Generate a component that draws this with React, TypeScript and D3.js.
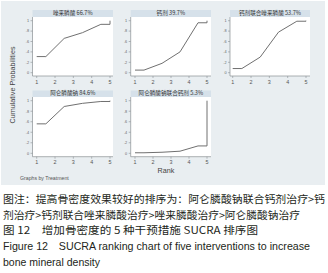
import React from "react";
import * as d3 from "d3";

// Data
const treatments = ["唑来膦酸", "钙剂", "钙剂联合唑来膦酸", "阿仑膦酸钠", "阿仑膦酸钠联合钙剂"];
const sucraLabels = ["66.7%", "39.7%", "53.7%", "84.6%", "5.3%"];
// cumulative probabilities at ranks 1..5
const cumZol = [0.31, 0.66, 0.77, 0.93, 1.0];
const cumCa = [0.05, 0.18, 0.4, 0.96, 1.0];
const cumCaZol = [0.08, 0.3, 0.78, 0.99, 1.0];
const cumAle = [0.56, 0.89, 0.95, 0.985, 1.0];
const cumAleCa = [0.01, 0.02, 0.04, 0.14, 1.0];
const seriesList = [cumZol, cumCa, cumCaZol, cumAle, cumAleCa];
const rankTicks = [1, 2, 3, 4, 5];
const probTicks = [0, 0.2, 0.4, 0.6, 0.8, 1];
const probTickLabels = ["0", ".2", ".4", ".6", ".8", "1"];

const captionLines = [
  "图注：提高骨密度效果较好的排序为：阿仑膦酸钠联合钙剂治疗>钙",
  "剂治疗>钙剂联合唑来膦酸治疗>唑来膦酸治疗>阿仑膦酸钠治疗",
  "图 12　增加骨密度的 5 种干预措施 SUCRA 排序图",
  "Figure 12　SUCRA ranking chart of five interventions to increase",
  "bone mineral density",
];

// Layout
const cols = [
  { left: 32.5, r1: 36.7, r5: 110, right: 113 },
  { left: 130.7, r1: 135, r5: 207, right: 211 },
  { left: 230, r1: 232.7, r5: 306, right: 310 },
];
const rows = [
  { bandTop: 10, top: 17, y1: 20.7, y0: 72.7, bottom: 76 },
  { bandTop: 90.5, top: 97, y1: 100.7, y0: 153.3, bottom: 156.7 },
];

function Panel({ idx }: { idx: number }) {
  const c = cols[idx % 3];
  const r = rows[Math.floor(idx / 3)];
  const x = d3.scaleLinear().domain([1, 5]).range([c.r1, c.r5]);
  const y = d3.scaleLinear().domain([0, 1]).range([r.y0, r.y1]);
  const v = seriesList[idx];
  const pts: [number, number][] = [
    [1, v[0]],
    [1.5, v[0]],
    [2.5, v[1]],
    [3.5, v[2]],
    [4.5, v[3]],
    [5, v[3]],
    [5, v[4]],
  ];
  const line = d3
    .line<[number, number]>()
    .x((d) => x(d[0]))
    .y((d) => y(d[1]));
  const axisCol = "#8a8f94";
  return (
    <g>
      <rect x={c.left} y={r.bandTop} width={c.right - c.left} height={r.top - r.bandTop} fill="#d6e1ea" />
      <text
        x={(c.left + c.right) / 2}
        y={r.top - 1.6}
        fontSize={5.6}
        textAnchor="middle"
        fill="#333"
        fontFamily="'Noto Sans CJK SC', 'Liberation Sans', sans-serif"
      >
        {treatments[idx] + " " + sucraLabels[idx]}
      </text>
      <rect x={c.left} y={r.top} width={c.right - c.left} height={r.bottom - r.top} fill="#ffffff" />
      <line x1={c.left} x2={c.left} y1={r.top} y2={r.bottom} stroke={axisCol} strokeWidth={0.7} />
      <line x1={c.left} x2={c.right} y1={r.bottom} y2={r.bottom} stroke={axisCol} strokeWidth={0.7} />
      {probTicks.map((t, i) => (
        <g key={"y" + i}>
          <line x1={c.left - 2} x2={c.left} y1={y(t)} y2={y(t)} stroke={axisCol} strokeWidth={0.6} />
          <text
            x={c.left - 3.5}
            y={y(t) + 1.3}
            fontSize={3.8}
            textAnchor="end"
            fill="#666"
            fontFamily="'Liberation Sans', sans-serif"
          >
            {probTickLabels[i]}
          </text>
        </g>
      ))}
      {rankTicks.map((t) => (
        <g key={"x" + t}>
          <line x1={x(t)} x2={x(t)} y1={r.bottom} y2={r.bottom + 2} stroke={axisCol} strokeWidth={0.6} />
          <text
            x={x(t)}
            y={r.bottom + 7.5}
            fontSize={5.4}
            textAnchor="middle"
            fill="#555"
            fontFamily="'Liberation Sans', sans-serif"
          >
            {t}
          </text>
        </g>
      ))}
      <path d={line(pts) || ""} fill="none" stroke="#707070" strokeWidth={1} />
    </g>
  );
}

export default function App() {
  const capX = 3;
  const capWidths = [322, 297, 255, 307, 97];
  const capY = [202.5, 218.5, 234, 250, 266];
  return (
    <svg
      width={328}
      height={273}
      style={{ position: "absolute", left: 0, top: 0, background: "#ffffff" }}
    >
      <rect x={1} y={1} width={324} height={184} fill="#e9eef1" />
      {treatments.map((_, i) => (
        <Panel key={i} idx={i} />
      ))}
      <text
        x={15}
        y={85}
        fontSize={7.2}
        fill="#444"
        textAnchor="middle"
        transform="rotate(-90 15 85)"
        fontFamily="'Liberation Sans', sans-serif"
      >
        Cumulative Probabilities
      </text>
      <text x={166} y={173} fontSize={7.2} fill="#444" textAnchor="middle" fontFamily="'Liberation Sans', sans-serif">
        Rank
      </text>
      <text x={20} y={179.5} fontSize={5.2} fill="#555" fontFamily="'Liberation Sans', sans-serif">
        Graphs by Treatment
      </text>
      {captionLines.map((t, i) => (
        <text
          key={i}
          x={capX}
          y={capY[i]}
          fontSize={i < 3 ? 10.6 : 10.8}
          fill="#231f20"
          textLength={capWidths[i]}
          lengthAdjust="spacingAndGlyphs"
          fontFamily={i < 3 ? "'Noto Sans CJK SC', sans-serif" : "'Liberation Sans', sans-serif"}
        >
          {t}
        </text>
      ))}
    </svg>
  );
}
